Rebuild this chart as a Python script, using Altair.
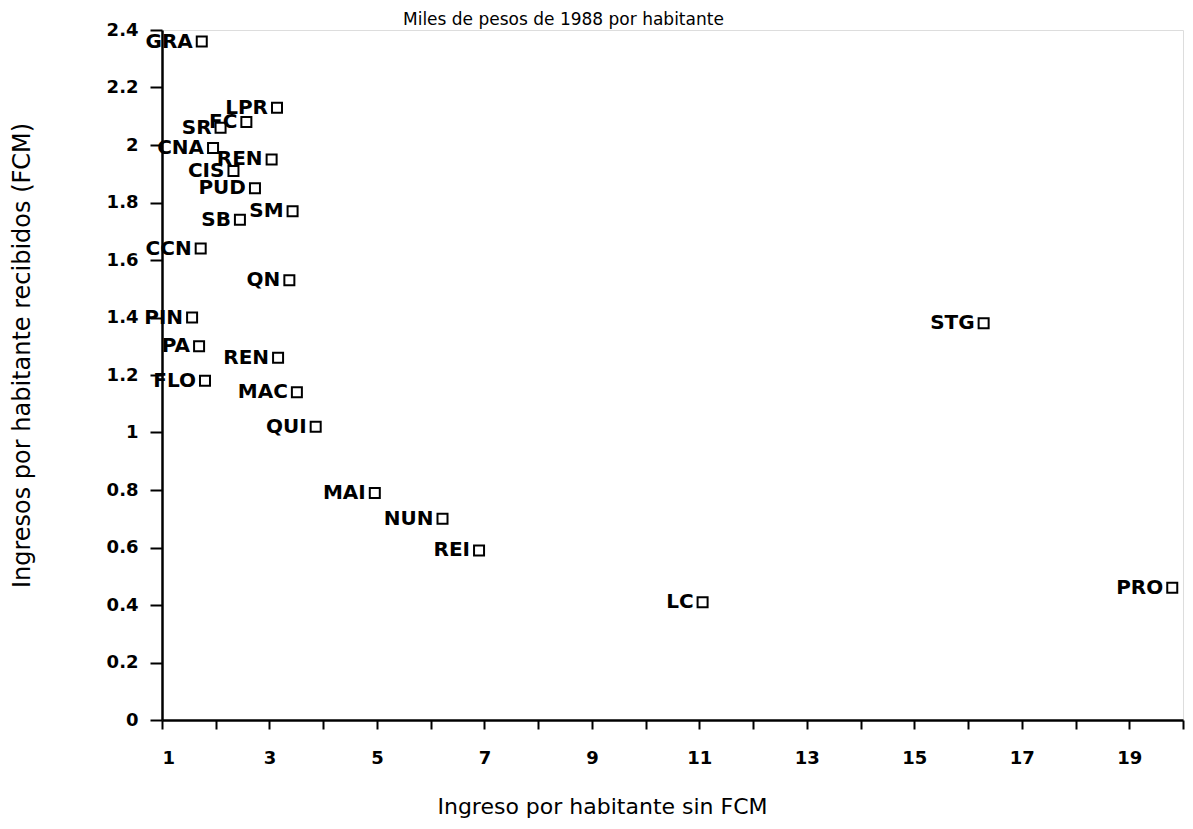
import altair as alt
import pandas as pd

labels = ["GRA", "LPR", "FC", "SR", "CNA", "REN", "CIS", "PUD", "SB", "SM",
          "CCN", "QN", "PIN", "PA", "REN", "FLO", "MAC", "QUI", "MAI", "NUN",
          "REI", "LC", "STG", "PRO"]
ingreso_sin_fcm = [1.74, 3.14, 2.57, 2.09, 1.95, 3.04, 2.33, 2.73, 2.45, 3.43,
                   1.72, 3.37, 1.56, 1.69, 3.16, 1.80, 3.51, 3.86, 4.96, 6.22,
                   6.90, 11.06, 16.29, 19.80]
ingreso_fcm = [2.36, 2.13, 2.08, 2.06, 1.99, 1.95, 1.91, 1.85, 1.74, 1.77,
               1.64, 1.53, 1.40, 1.30, 1.26, 1.18, 1.14, 1.02, 0.79, 0.70,
               0.59, 0.41, 1.38, 0.46]

x_ticks = [1, 2, 3, 4, 5, 6, 7, 8, 9, 10, 11, 12, 13, 14, 15, 16, 17, 18, 19, 20]
y_ticks = [0, 0.2, 0.4, 0.6, 0.8, 1, 1.2, 1.4, 1.6, 1.8, 2, 2.2, 2.4]

title_text = ["Miles de pesos de 1988 por habitante"]

df = pd.DataFrame({"label": labels, "x": ingreso_sin_fcm, "y": ingreso_fcm})
title_df = pd.DataFrame({"t": title_text})

FONT = "DejaVu Sans"

x_enc = alt.X(
    "x:Q",
    scale=alt.Scale(domain=[1, 20], nice=False, zero=False),
    axis=alt.Axis(
        values=x_ticks,
        labelExpr="datum.value % 2 == 1 ? datum.label : ''",
        grid=False,
        tickSize=9,
        tickWidth=2,
        tickColor="black",
        domainColor="black",
        domainWidth=2.5,
        labelFont=FONT,
        labelFontSize=18,
        labelFontWeight="bold",
        labelColor="black",
        labelPadding=20,
        title="Ingreso por habitante sin FCM",
        titleFont=FONT,
        titleFontSize=22,
        titleFontWeight="normal",
        titleColor="black",
        titleX=440,
        titleY=86,
        titleAlign="center",
        titleBaseline="middle",
    ),
)

y_enc = alt.Y(
    "y:Q",
    scale=alt.Scale(domain=[0, 2.4], nice=False),
    axis=alt.Axis(
        values=y_ticks,
        format="~g",
        grid=False,
        tickSize=12,
        tickWidth=2,
        tickColor="black",
        domainColor="black",
        domainWidth=2.5,
        labelFont=FONT,
        labelFontSize=18,
        labelFontWeight="bold",
        labelColor="black",
        labelPadding=12,
        title="Ingresos por habitante recibidos (FCM)",
        titleFont=FONT,
        titleFontSize=24,
        titleFontWeight="normal",
        titleColor="black",
        titleX=-140,
        titleY=325,
        titleAngle=-90,
        titleAlign="center",
        titleBaseline="middle",
    ),
)

points = alt.Chart(df).mark_point(
    shape="square", filled=False, size=100, strokeWidth=2, color="black", opacity=1
).encode(x=x_enc, y=y_enc)

texts = alt.Chart(df).mark_text(
    align="right", baseline="middle", dx=-9, font=FONT, fontSize=20,
    fontWeight="bold", color="black"
).encode(x="x:Q", y="y:Q", text="label:N")

title_mark = alt.Chart(title_df).mark_text(
    align="left", baseline="alphabetic", font=FONT, fontSize=17,
    fontWeight="normal", color="black"
).encode(x=alt.value(241), y=alt.value(-5), text="t:N")

chart = alt.layer(points, texts, title_mark).properties(
    width=1021,
    height=690,
    padding={"left": 154, "top": 22, "right": 2, "bottom": 100},
    autosize=alt.AutoSizeParams(type="none"),
).configure_view(stroke="black", strokeWidth=2).configure(background="white")

chart.save("out.html", embed_options={"renderer": "svg", "actions": False})
